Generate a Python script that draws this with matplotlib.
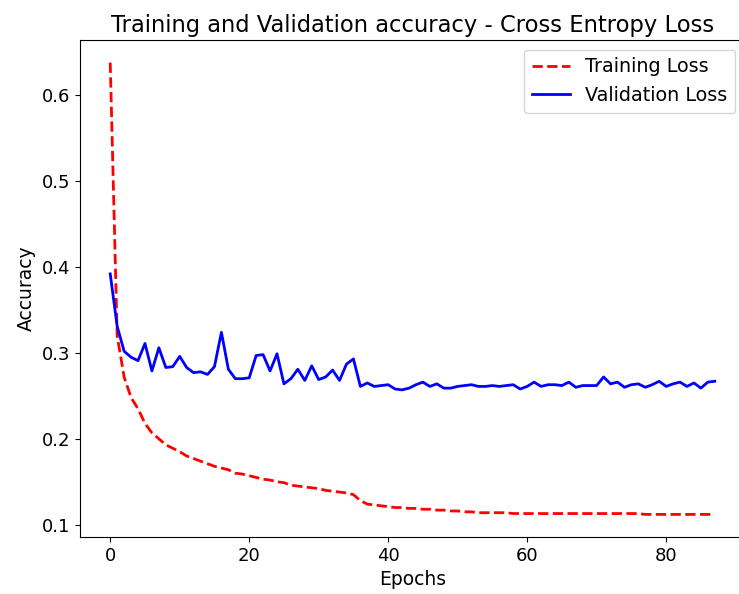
import numpy as np
import matplotlib
matplotlib.use("Agg")
import matplotlib.pyplot as plt

# training loss per epoch (red dashed)
train_loss = [0.638, 0.320, 0.272, 0.248, 0.235, 0.218, 0.207, 0.200, 0.193, 0.189,
              0.185, 0.180, 0.177, 0.174, 0.171, 0.168, 0.166, 0.164, 0.160, 0.159,
              0.157, 0.155, 0.153, 0.152, 0.150, 0.149, 0.146, 0.145, 0.144, 0.143,
              0.142, 0.140, 0.139, 0.138, 0.137, 0.135, 0.128, 0.124, 0.123, 0.122,
              0.121, 0.120, 0.120, 0.119, 0.119, 0.118, 0.118, 0.117, 0.117, 0.116,
              0.116, 0.115, 0.115, 0.114, 0.114, 0.114, 0.114, 0.114, 0.113, 0.113,
              0.113, 0.113, 0.113, 0.113, 0.113, 0.113, 0.113, 0.113, 0.113, 0.113,
              0.113, 0.113, 0.113, 0.113, 0.113, 0.113, 0.113, 0.112, 0.112, 0.112,
              0.112, 0.112, 0.112, 0.112, 0.112, 0.112, 0.112, 0.112]

# validation loss per epoch (blue solid)
val_loss = [0.392, 0.331, 0.302, 0.295, 0.291, 0.311, 0.279, 0.306, 0.283, 0.284,
            0.296, 0.283, 0.277, 0.278, 0.275, 0.284, 0.324, 0.281, 0.270, 0.270,
            0.271, 0.297, 0.298, 0.279, 0.299, 0.264, 0.270, 0.281, 0.268, 0.285,
            0.269, 0.272, 0.280, 0.268, 0.287, 0.293, 0.261, 0.265, 0.261, 0.262,
            0.263, 0.258, 0.257, 0.259, 0.263, 0.266, 0.261, 0.264, 0.259, 0.259,
            0.261, 0.262, 0.263, 0.261, 0.261, 0.262, 0.261, 0.262, 0.263, 0.258,
            0.261, 0.266, 0.261, 0.263, 0.263, 0.262, 0.266, 0.260, 0.262, 0.262,
            0.262, 0.272, 0.264, 0.266, 0.260, 0.263, 0.264, 0.260, 0.263, 0.267,
            0.261, 0.264, 0.266, 0.261, 0.265, 0.259, 0.266, 0.267]

epochs = np.arange(len(val_loss))

fig = plt.figure(figsize=(7.39, 5.94), dpi=100)
ax = fig.add_axes([80 / 739, 57 / 594, 665 / 739, 497 / 594])

ax.plot(epochs, train_loss, 'r--', linewidth=2, label='Training Loss')
ax.plot(epochs, val_loss, 'b-', linewidth=2, label='Validation Loss')

ax.set_title('Training and Validation accuracy - Cross Entropy Loss', fontsize=16.3)
ax.set_xlabel('Epochs', fontsize=13.5)
ax.set_ylabel('Accuracy', fontsize=13.5)
ax.tick_params(labelsize=13)
ax.legend(fontsize=13.8, loc='upper right')

fig.savefig('out.png', dpi=100)
